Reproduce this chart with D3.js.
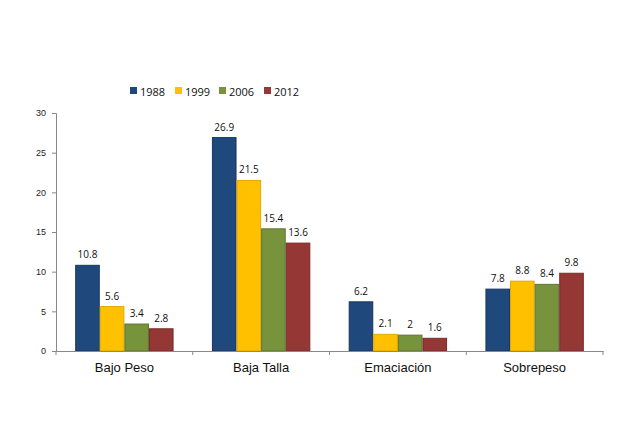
<!DOCTYPE html>
<html><head><meta charset="utf-8">
<script src="https://cdn.jsdelivr.net/npm/d3@7"></script>
<style>body{margin:0;background:#fff;}svg{display:block;font-family:"Open Sans",Lato,sans-serif;}</style>
</head><body>
<svg id="c" width="640" height="430"></svg>
<script>
const categories = ["Bajo Peso", "Baja Talla", "Emaciación", "Sobrepeso"];
const years = ["1988", "1999", "2006", "2012"];
const v1988 = [10.8, 26.9, 6.2, 7.8];
const v1999 = [5.6, 21.5, 2.1, 8.8];
const v2006 = [3.4, 15.4, 2, 8.4];
const v2012 = [2.8, 13.6, 1.6, 9.8];
const yTicks = [0, 5, 10, 15, 20, 25, 30];
const colors = ["#1F497D", "#FFC000", "#77933C", "#953735"];
const strokes = ["#17375E", "#E0A800", "#5F7530", "#772C2A"];

const series = [v1988, v1999, v2006, v2012];
const svg = d3.select("#c");
const x0 = d3.scaleBand().domain(categories).range([56, 603]).paddingInner(0).paddingOuter(0);
const x1 = d3.scaleBand().domain(years).range([0, x0.bandwidth()]).paddingInner(0).paddingOuter(0.78);
const y = d3.scaleLinear().domain([0, 30]).range([351, 113]);

// y axis
const ya = svg.append("g").attr("transform","translate(56,0)")
  .call(d3.axisLeft(y).tickValues(yTicks).tickSize(4).tickPadding(6).tickFormat(d3.format("d")));
ya.select(".domain").attr("stroke","#888");
ya.selectAll(".tick line").attr("stroke","#888");
ya.selectAll("text").attr("font-size",9).attr("fill","#222");

// bars
const g = svg.append("g");
categories.forEach((c, ci) => {
  years.forEach((yr, si) => {
    const v = series[si][ci];
    g.append("rect")
      .attr("x", x0(c) + x1(yr) + 0.5)
      .attr("y", y(v))
      .attr("width", x1.bandwidth() - 1)
      .attr("height", y(0) - y(v))
      .attr("fill", colors[si])
      .attr("stroke", strokes[si]).attr("stroke-width", 1);
    g.append("text")
      .attr("x", x0(c) + x1(yr) + x1.bandwidth()/2)
      .attr("y", y(v) - 7)
      .attr("text-anchor","middle").attr("font-size",10).attr("fill","#111")
      .text(v);
  });
});

// x axis
const xa = svg.append("g").attr("transform","translate(0,351)")
  .call(d3.axisBottom(x0).tickSize(0).tickPadding(12));
xa.select(".domain").attr("stroke","#888");
xa.selectAll("text").attr("font-size",13).attr("fill","#111");
// category separator ticks
const seps = [x0.range()[0]].concat(categories.map(c => x0(c) + x0.bandwidth()));
svg.append("g").selectAll("line").data(seps).join("line")
  .attr("x1", d=>d).attr("x2", d=>d).attr("y1", 351).attr("y2", 355)
  .attr("stroke","#888");

// legend
const lx = [130, 175, 219, 264];
const lg = svg.append("g");
years.forEach((yr, i) => {
  lg.append("rect").attr("x", lx[i]).attr("y", 87).attr("width", 7).attr("height", 7).attr("fill", colors[i]);
  lg.append("text").attr("x", lx[i] + 10).attr("y", 95.5).attr("font-size", 11).attr("fill","#111").text(yr);
});
</script>
</body></html>
